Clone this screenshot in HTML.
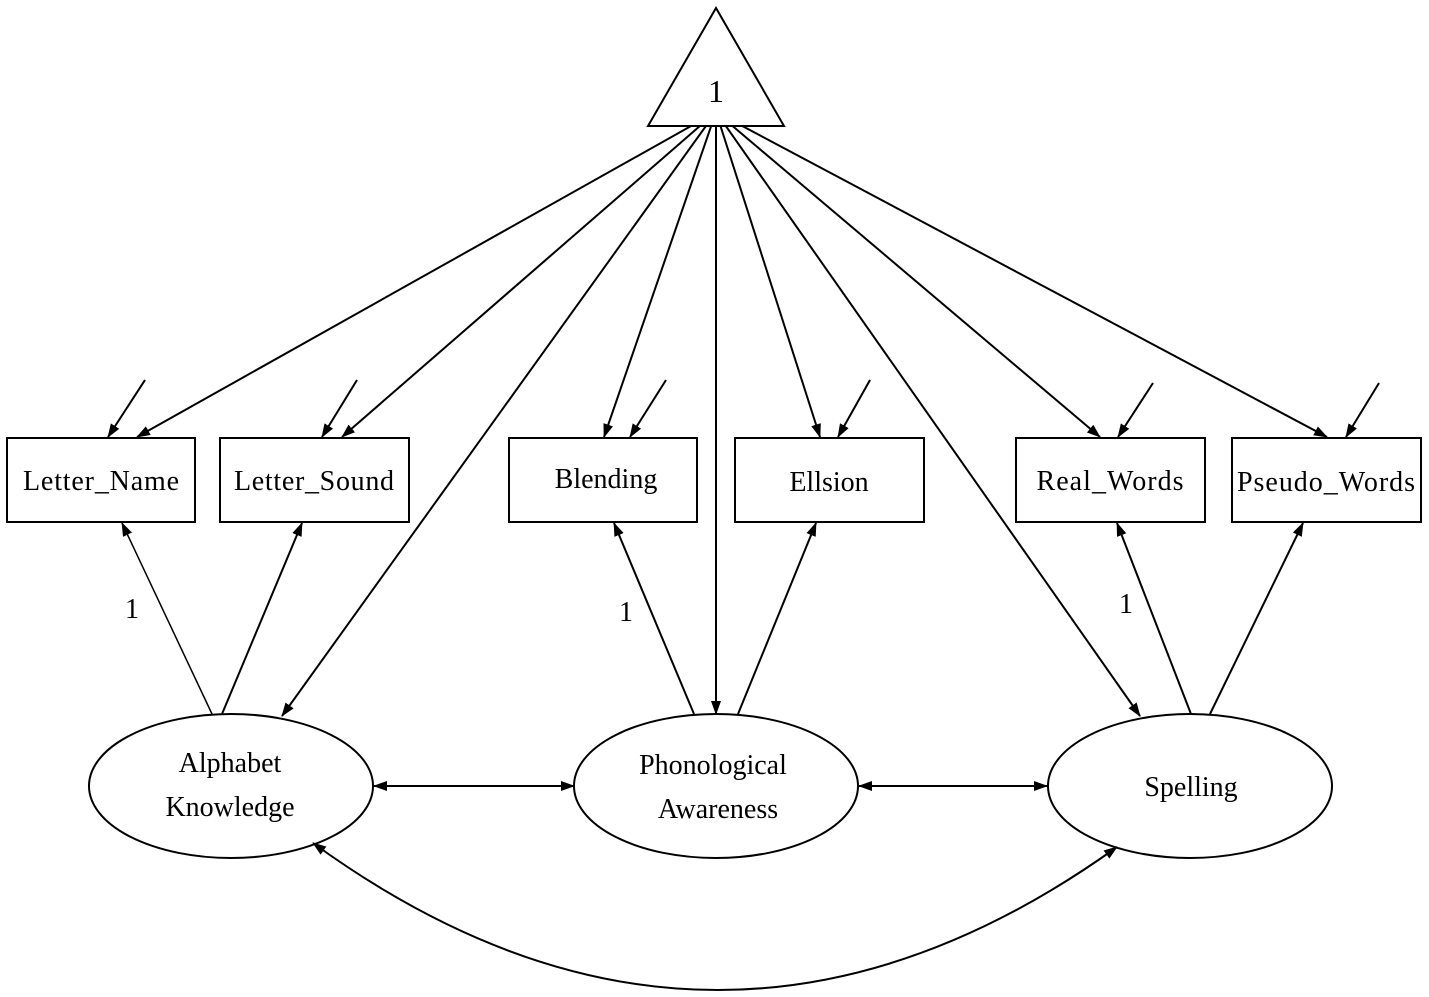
<!DOCTYPE html>
<html><head><meta charset="utf-8"><style>
html,body{margin:0;padding:0;background:#fff;}
svg{display:block;}
text{font-family:"Liberation Serif",serif;font-size:28px;fill:#000;}
</style></head><body>
<svg width="1429" height="997" viewBox="0 0 1429 997" xmlns="http://www.w3.org/2000/svg">
<defs>
<marker id="a" markerWidth="14" markerHeight="10" refX="13" refY="5" orient="auto" markerUnits="userSpaceOnUse" viewBox="0 0 14 10"><path d="M0,0 L14,5 L0,10 z" fill="#000"/></marker>
<marker id="as" markerWidth="14" markerHeight="10" refX="1" refY="5" orient="auto" markerUnits="userSpaceOnUse" viewBox="0 0 14 10"><path d="M14,0 L0,5 L14,10 z" fill="#000"/></marker>
</defs>
<g stroke="#000" stroke-width="2" fill="none">
<line x1="716" y1="112" x2="137" y2="437" marker-end="url(#a)"/>
<line x1="716" y1="112" x2="342" y2="437" marker-end="url(#a)"/>
<line x1="716" y1="112" x2="282" y2="716" marker-end="url(#a)"/>
<line x1="716" y1="112" x2="604" y2="437" marker-end="url(#a)"/>
<line x1="716" y1="112" x2="716" y2="714" marker-end="url(#a)"/>
<line x1="716" y1="112" x2="820" y2="437" marker-end="url(#a)"/>
<line x1="716" y1="112" x2="1140" y2="716" marker-end="url(#a)"/>
<line x1="716" y1="112" x2="1100" y2="437" marker-end="url(#a)"/>
<line x1="716" y1="112" x2="1327" y2="437" marker-end="url(#a)"/>
</g>
<polygon points="716,8 648,126 784,126" fill="#fff" stroke="#000" stroke-width="2"/>
<text x="716" y="102" text-anchor="middle" style="font-size:32px">1</text>
<g stroke="#000" stroke-width="2" fill="none">
<line x1="145" y1="380" x2="108" y2="437" marker-end="url(#a)"/>
<line x1="357" y1="380" x2="322" y2="437" marker-end="url(#a)"/>
<line x1="666" y1="380" x2="630" y2="437" marker-end="url(#a)"/>
<line x1="870" y1="380" x2="838" y2="437" marker-end="url(#a)"/>
<line x1="1153" y1="383" x2="1118" y2="437" marker-end="url(#a)"/>
<line x1="1379" y1="383" x2="1346" y2="437" marker-end="url(#a)"/>
<line x1="212" y1="714" x2="122" y2="523" stroke-width="1.5" marker-end="url(#a)"/>
<line x1="222" y1="714" x2="302" y2="523" marker-end="url(#a)"/>
<line x1="694" y1="714" x2="614" y2="523" marker-end="url(#a)"/>
<line x1="738" y1="714" x2="816" y2="523" marker-end="url(#a)"/>
<line x1="1191" y1="714" x2="1117" y2="523" marker-end="url(#a)"/>
<line x1="1210" y1="714" x2="1303" y2="523" marker-end="url(#a)"/>
<line x1="374" y1="786" x2="574" y2="786" marker-start="url(#as)" marker-end="url(#a)"/>
<line x1="859" y1="786" x2="1047" y2="786" marker-start="url(#as)" marker-end="url(#a)"/>
<path d="M313,843 Q715,1135 1117,847" marker-start="url(#as)" marker-end="url(#a)"/>
<rect x="7" y="438" width="188" height="84"/>
<rect x="220" y="438" width="189" height="84"/>
<rect x="509" y="438" width="188" height="84"/>
<rect x="735" y="438" width="189" height="84"/>
<rect x="1016" y="438" width="189" height="84"/>
<rect x="1232" y="438" width="189" height="84"/>
<ellipse cx="231" cy="786" rx="142" ry="72"/>
<ellipse cx="716" cy="786" rx="142" ry="72"/>
<ellipse cx="1190" cy="786" rx="142" ry="72"/>
</g>
<g text-anchor="middle">
<text x="101" y="490" textLength="156">Letter_Name</text>
<text x="314" y="490" textLength="160">Letter_Sound</text>
<text x="606" y="488">Blending</text>
<text x="829" y="491">Ellsion</text>
<text x="1110" y="490" textLength="147">Real_Words</text>
<text x="1326" y="491" textLength="178">Pseudo_Words</text>
<text x="230" y="772">Alphabet</text>
<text x="230" y="816">Knowledge</text>
<text x="713" y="774">Phonological</text>
<text x="718" y="818">Awareness</text>
<text x="1191" y="796">Spelling</text>
<text x="132" y="618">1</text>
<text x="626" y="621">1</text>
<text x="1126" y="613">1</text>
</g>
</svg>
</body></html>
